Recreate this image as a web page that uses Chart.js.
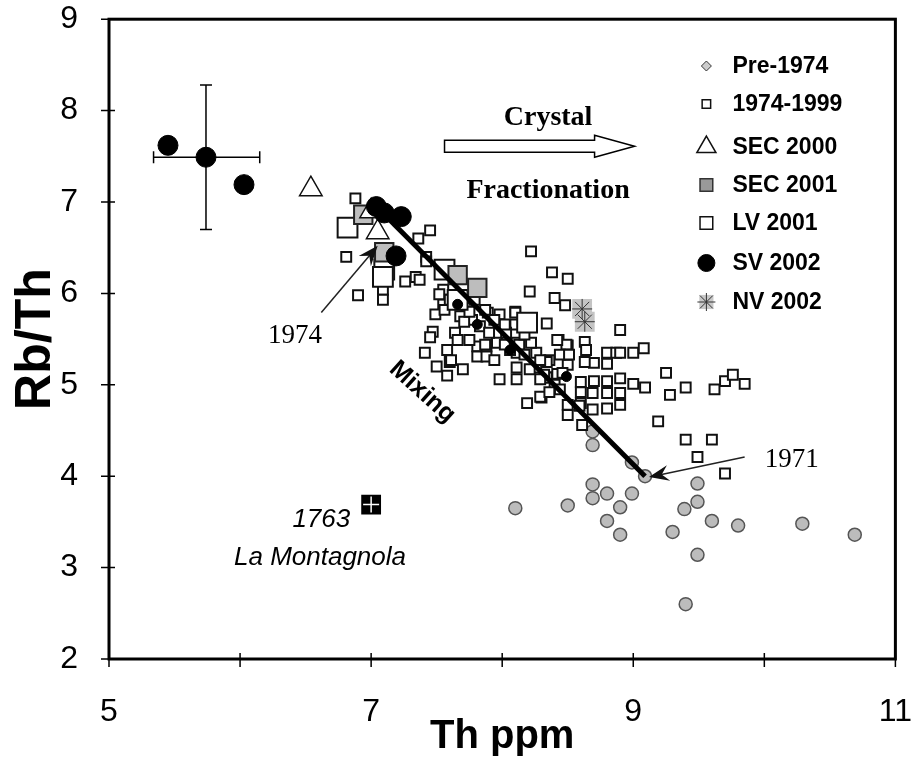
<!DOCTYPE html>
<html>
<head>
<meta charset="utf-8">
<script src="https://cdn.jsdelivr.net/npm/chart.js@4.4.1/dist/chart.umd.min.js"></script>
<style>
  html, body { margin: 0; padding: 0; background: #fff; }
  #wrap { width: 912px; height: 761px; }
</style>
</head>
<body>
<div id="wrap"><canvas id="rbth"></canvas></div>
<script>
// Rb/Th vs Th (ppm), Etna lavas

// Pre-1974
const preTh   = [8.10, 8.50, 8.69, 8.69, 8.80, 8.90, 8.80, 8.90, 8.99, 9.09, 8.99, 8.69, 8.69, 9.30, 9.39, 9.49, 9.49, 9.60, 9.49, 9.80, 9.40, 10.29, 10.69];
const preRbTh = [3.65, 3.68, 3.91, 3.76, 3.81, 3.66, 3.51, 3.36, 3.81, 4.00, 4.15, 4.34, 4.49, 3.39, 3.64, 3.72, 3.92, 3.51, 3.14, 3.46, 2.60, 3.48, 3.36];

// 1974-1999
const histTh = [
  6.88, 6.81, 6.90, 7.09, 7.09, 7.26, 7.34, 7.36, 7.45, 7.42, 7.42, 7.37, 7.55,
  8.22, 8.38, 8.50, 8.21, 8.40, 8.48, 8.10, 8.34, 8.90, 8.43, 8.50, 8.63, 8.80, 8.87, 8.90, 9.00, 9.08,
  9.25, 9.09, 9.28, 9.40, 9.62, 9.70, 9.76, 9.85, 9.19, 9.40, 9.60, 9.49, 9.70,
  9.00, 8.90, 8.80, 8.70, 8.60, 8.60, 8.60, 8.69, 8.69, 8.80, 8.80, 8.90, 8.90, 8.59, 8.50, 8.50,
  8.30, 8.35, 8.42, 8.80, 8.70, 8.63, 8.50, 8.49, 8.42, 8.36, 8.44, 8.51, 8.64, 8.46, 8.26, 8.61,
  7.55, 7.49, 7.47, 7.41, 7.50, 7.60, 7.58, 7.70, 7.64, 7.66, 7.58, 7.61, 7.81, 7.81, 7.88, 7.88,
  7.96, 7.94, 7.98, 8.10, 8.10, 8.11, 8.11, 8.11, 8.11, 8.19, 8.29, 8.34, 8.34, 8.26, 8.22, 7.98,
  7.89, 7.83, 7.77, 7.73, 7.68, 7.90, 8.03, 8.06, 7.45,
  7.52, 7.60, 7.68, 7.56, 7.71, 7.75, 7.87, 8.02, 8.13, 8.17, 8.29, 7.75, 7.79, 7.87, 7.94, 8.02,
  8.17, 8.21, 8.32, 8.40, 8.44, 8.29, 8.36
];
const histRbTh = [
  7.04, 6.40, 5.98, 6.04, 5.93, 6.13, 6.18, 6.60, 6.69, 6.40, 6.35, 6.15, 6.04,
  6.46, 6.23, 6.16, 6.02, 5.95, 5.87, 5.80, 5.67, 5.60, 5.49, 5.43, 5.47, 5.35, 5.35, 5.35, 5.35, 5.40,
  5.13, 4.97, 4.89, 4.97, 4.95, 5.04, 5.11, 5.01, 4.60, 4.40, 4.40, 4.21, 4.03,
  5.01, 5.07, 5.04, 5.04, 5.03, 4.92, 4.80, 4.91, 4.73, 4.91, 4.74, 4.91, 4.78, 4.77, 4.78, 4.67,
  4.86, 5.08, 5.12, 5.23, 5.24, 5.25, 5.22, 5.44, 5.49, 5.27, 5.33, 5.33, 5.38, 5.13, 5.19, 4.56,
  5.88, 5.77, 5.58, 5.35, 5.20, 5.25, 5.10, 5.17, 5.57, 5.49, 5.38, 5.27, 5.42, 5.31, 5.42, 5.31,
  5.46, 5.27, 5.06, 5.79, 5.66, 5.46, 5.35, 5.19, 5.06, 4.80, 4.87, 5.25, 5.08, 5.35, 5.46, 5.77,
  5.79, 5.64, 5.71, 5.84, 5.75, 5.57, 5.57, 5.38, 5.52,
  5.99, 5.93, 5.88, 5.82, 5.69, 5.80, 5.44, 5.44, 5.44, 5.33, 5.27, 5.49, 5.93, 5.82, 5.71, 5.66,
  5.55, 5.17, 5.11, 5.00, 4.95, 5.06, 4.92
];

// SEC 2000
const sec00Th   = [6.54, 7.00, 7.05];
const sec00RbTh = [7.14, 6.90, 6.67];

// SEC 2001
const sec01Th   = [6.94, 7.10, 7.66, 7.81];
const sec01RbTh = [6.86, 6.45, 6.20, 6.06];

// LV 2001
const lv01Th   = [6.82, 7.10, 7.09, 7.56, 7.66, 8.19];
const lv01RbTh = [6.72, 6.26, 6.18, 6.26, 5.93, 5.68];

// SV 2002
const sv02Th   = [5.45, 5.74, 6.03, 7.04, 7.23, 7.19, 7.10, 7.66, 7.81, 8.06, 8.49];
const sv02RbTh = [7.62, 7.49, 7.19, 6.95, 6.84, 6.41, 6.88, 5.88, 5.66, 5.38, 5.09];

// NV 2002
const nv02Th   = [8.61, 8.63];
const nv02RbTh = [5.83, 5.69];

// 1763 La Montagnola
const montTh   = [7.00];
const montRbTh = [3.69];

// mixing line end members
const mixTh   = [7.04, 9.09];
const mixRbTh = [6.95, 4.00];

// analytical error bar (on the SV 2002 point)
const errTh   = 5.74, errRbTh = 7.49;
const errThLo = 5.34, errThHi = 6.15;
const errRbLo = 6.70, errRbHi = 8.28;

const xTicks = [5, 7, 9, 11];
const yTicks = [2, 3, 4, 5, 6, 7, 8, 9];

const legendItems = ['Pre-1974', '1974-1999', 'SEC 2000', 'SEC 2001', 'LV 2001', 'SV 2002', 'NV 2002'];

function pts(xs, ys) {
  return xs.map((x, i) => ({ x: x, y: ys[i] }));
}

const SANS = '"Liberation Sans", Arial, sans-serif';
const SERIF = '"Liberation Serif", "Times New Roman", serif';

// extra drawing: frame, ticks, error bar, arrows, labels, legend
const decorations = {
  id: 'decorations',
  afterDatasetsDraw(chart) {
    const ctx = chart.ctx;
    const xs = chart.scales.x, ys = chart.scales.y;
    const a = chart.chartArea;
    const X = v => xs.getPixelForValue(v);
    const Y = v => ys.getPixelForValue(v);
    ctx.save();

    // frame
    ctx.strokeStyle = '#000';
    ctx.lineWidth = 3;
    ctx.strokeRect(a.left, a.top, a.right - a.left, a.bottom - a.top);

    // ticks crossing the axes
    ctx.lineWidth = 1.5;
    ctx.beginPath();
    for (let v = 5; v <= 11; v++) { ctx.moveTo(X(v), a.bottom + 8); ctx.lineTo(X(v), a.bottom - 6); }
    for (const v of yTicks) { ctx.moveTo(a.left - 8, Y(v)); ctx.lineTo(a.left + 6, Y(v)); }
    ctx.stroke();

    // error bar
    ctx.lineWidth = 1.5;
    ctx.beginPath();
    ctx.moveTo(X(errThLo), Y(errRbTh)); ctx.lineTo(X(errThHi), Y(errRbTh));
    ctx.moveTo(X(errThLo), Y(errRbTh) - 6); ctx.lineTo(X(errThLo), Y(errRbTh) + 6);
    ctx.moveTo(X(errThHi), Y(errRbTh) - 6); ctx.lineTo(X(errThHi), Y(errRbTh) + 6);
    ctx.moveTo(X(errTh), Y(errRbLo)); ctx.lineTo(X(errTh), Y(errRbHi));
    ctx.moveTo(X(errTh) - 6, Y(errRbLo)); ctx.lineTo(X(errTh) + 6, Y(errRbLo));
    ctx.moveTo(X(errTh) - 6, Y(errRbHi)); ctx.lineTo(X(errTh) + 6, Y(errRbHi));
    ctx.stroke();

    // thin arrows (1974, 1971)
    function arrow(x0, y0, x1, y1) {
      const p0 = [X(x0), Y(y0)], p1 = [X(x1), Y(y1)];
      const ang = Math.atan2(p1[1] - p0[1], p1[0] - p0[0]);
      ctx.strokeStyle = '#222';
      ctx.lineWidth = 1.5;
      ctx.beginPath();
      ctx.moveTo(p0[0], p0[1]);
      ctx.lineTo(p1[0] - 8 * Math.cos(ang), p1[1] - 8 * Math.sin(ang));
      ctx.stroke();
      ctx.save();
      ctx.translate(p1[0], p1[1]);
      ctx.rotate(ang);
      ctx.fillStyle = '#111';
      ctx.beginPath();
      ctx.moveTo(0, 0);
      ctx.lineTo(-20, -8);
      ctx.lineTo(-13, 0);
      ctx.lineTo(-20, 8);
      ctx.closePath();
      ctx.fill();
      ctx.restore();
    }
    arrow(6.62, 5.79, 7.05, 6.52);
    arrow(9.85, 4.21, 9.12, 3.99);

    // hollow "crystal fractionation" arrow
    const ax0 = X(7.56), ax1 = X(9.01), ay = Y(7.61);
    ctx.fillStyle = '#fff';
    ctx.strokeStyle = '#000';
    ctx.lineWidth = 1.5;
    ctx.beginPath();
    ctx.moveTo(ax0, ay - 6);
    ctx.lineTo(ax1 - 40, ay - 6);
    ctx.lineTo(ax1 - 40, ay - 11);
    ctx.lineTo(ax1, ay);
    ctx.lineTo(ax1 - 40, ay + 11);
    ctx.lineTo(ax1 - 40, ay + 6);
    ctx.lineTo(ax0, ay + 6);
    ctx.closePath();
    ctx.fill();
    ctx.stroke();

    // labels
    ctx.fillStyle = '#000';
    ctx.textAlign = 'center';
    ctx.textBaseline = 'middle';
    ctx.font = 'bold 28px ' + SERIF;
    ctx.fillText('Crystal', X(8.35), Y(7.92));
    ctx.fillText('Fractionation', X(8.35), Y(7.12));
    ctx.font = '27px ' + SERIF;
    ctx.fillText('1974', X(6.42), Y(5.53));
    ctx.fillText('1971', X(10.21), Y(4.18));
    ctx.font = 'italic 26px ' + SANS;
    ctx.fillText('1763', X(6.62), Y(3.52));
    ctx.fillText('La Montagnola', X(6.61), Y(3.11));
    ctx.save();
    ctx.translate(X(7.39), Y(4.92));
    ctx.rotate(42 * Math.PI / 180);
    ctx.font = 'bold 25px ' + SANS;
    ctx.fillText('Mixing', 0, 0);
    ctx.restore();

    // legend (inside plot, top right)
    const markers = [
      { pointStyle: 'rectRot', radius: 5, fill: '#ccc', stroke: '#333', bw: 1 },
      { pointStyle: 'rect', radius: 6, fill: '#fff', stroke: '#111', bw: 1.5 },
      { pointStyle: 'triangle', radius: 11, fill: '#fff', stroke: '#111', bw: 1.5 },
      { pointStyle: 'rect', radius: 9, fill: '#999', stroke: '#333', bw: 1.5 },
      { pointStyle: 'rect', radius: 9, fill: '#fff', stroke: '#111', bw: 1.5 },
      { pointStyle: 'circle', radius: 8.5, fill: '#000', stroke: '#000', bw: 1 },
      { pointStyle: 'rect', radius: 10, fill: '#c8c8c8', stroke: '#c8c8c8', bw: 0 }
    ];
    const legY = [66, 104, 147, 185, 223, 263, 302];
    const mx = a.right - 189, tx = a.right - 163;
    ctx.textAlign = 'left';
    ctx.font = 'bold 23px ' + SANS;
    legendItems.forEach((label, i) => {
      const m = markers[i];
      ctx.fillStyle = m.fill;
      ctx.strokeStyle = m.stroke;
      ctx.lineWidth = m.bw;
      Chart.helpers.drawPoint(ctx, { pointStyle: m.pointStyle, radius: m.radius, rotation: 0, borderWidth: m.bw }, mx, legY[i]);
      if (i === 6) {
        ctx.strokeStyle = '#333';
        ctx.lineWidth = 1;
        Chart.helpers.drawPoint(ctx, { pointStyle: 'star', radius: 9, rotation: 0, borderWidth: 1 }, mx, legY[i]);
      }
      ctx.fillStyle = '#000';
      ctx.fillText(label, tx, legY[i] + 1);
    });

    ctx.restore();
  }
};

const ctx = document.getElementById('rbth').getContext('2d');
new Chart(ctx, {
  type: 'scatter',
  data: {
    datasets: [
      {
        label: 'Mixing',
        data: pts(mixTh, mixRbTh),
        showLine: true,
        borderColor: '#000',
        borderWidth: 5,
        pointRadius: 0,
        order: 0
      },
      {
        label: 'SV 2002',
        data: pts(sv02Th, sv02RbTh),
        pointStyle: 'circle',
        pointRadius: sv02Th.map((v, i) => i < 7 ? 10 : 5),
        backgroundColor: '#000',
        borderColor: '#000',
        borderWidth: 1,
        order: 1
      },
      {
        label: 'SEC 2000',
        data: pts(sec00Th, sec00RbTh),
        pointStyle: 'triangle',
        pointRadius: 13,
        backgroundColor: '#fff',
        borderColor: '#111',
        borderWidth: 1.5,
        order: 2
      },
      {
        label: 'NV 2002 star',
        data: pts(nv02Th, nv02RbTh),
        pointStyle: 'star',
        pointRadius: 10,
        backgroundColor: 'rgba(0,0,0,0)',
        borderColor: '#333',
        borderWidth: 1,
        order: 3
      },
      {
        label: 'NV 2002',
        data: pts(nv02Th, nv02RbTh),
        pointStyle: 'rect',
        pointRadius: 14,
        backgroundColor: '#c4c4c4',
        borderColor: '#c4c4c4',
        borderWidth: 0,
        order: 4
      },
      {
        label: 'SEC 2001',
        data: pts(sec01Th, sec01RbTh),
        pointStyle: 'rect',
        pointRadius: 13,
        backgroundColor: '#bdbdbd',
        borderColor: '#222',
        borderWidth: 2,
        order: 5
      },
      {
        label: 'LV 2001',
        data: pts(lv01Th, lv01RbTh),
        pointStyle: 'rect',
        pointRadius: 14,
        backgroundColor: '#fff',
        borderColor: '#111',
        borderWidth: 2,
        order: 6
      },
      {
        label: '1974-1999',
        data: pts(histTh, histRbTh),
        pointStyle: 'rect',
        pointRadius: 7,
        backgroundColor: '#fff',
        borderColor: '#111',
        borderWidth: 2,
        order: 7
      },
      {
        label: 'Pre-1974',
        data: pts(preTh, preRbTh),
        pointStyle: 'circle',
        pointRadius: 6.5,
        backgroundColor: '#bcbcbc',
        borderColor: '#555',
        borderWidth: 1.5,
        order: 8
      },
      {
        label: '1763 cross',
        data: pts(montTh, montRbTh),
        pointStyle: 'cross',
        pointRadius: 8,
        borderColor: '#fff',
        borderWidth: 1.5,
        order: 9
      },
      {
        label: '1763 La Montagnola',
        data: pts(montTh, montRbTh),
        pointStyle: 'rect',
        pointRadius: 14,
        backgroundColor: '#000',
        borderColor: '#000',
        borderWidth: 0,
        order: 10
      }
    ]
  },
  options: {
    responsive: true,
    maintainAspectRatio: false,
    animation: false,
    events: [],
    layout: { padding: 0 },
    plugins: {
      legend: { display: false },
      tooltip: { enabled: false }
    },
    scales: {
      x: {
        type: 'linear',
        min: 5,
        max: 11,
        afterFit: s => { s.height = 102; },
        border: { display: false },
        // tick marks are drawn by the plugin; the invisible tick length sets the label gap
        grid: { drawOnChartArea: false, drawTicks: true, tickLength: 34, color: 'rgba(0,0,0,0)' },
        ticks: {
          stepSize: 1,
          autoSkip: false,
          maxRotation: 0,
          padding: 0,
          color: '#000',
          font: { family: SANS, size: 32 },
          callback: v => xTicks.includes(v) ? String(v) : ''
        },
        title: {
          display: true,
          text: 'Th ppm',
          color: '#000',
          font: { family: SANS, size: 40, weight: 'bold' },
          padding: { top: 0, bottom: 0 }
        }
      },
      y: {
        type: 'linear',
        min: 2,
        max: 9,
        afterFit: s => { s.width = 109; },
        border: { display: false },
        grid: { drawOnChartArea: false, drawTicks: true, tickLength: 31, color: 'rgba(0,0,0,0)' },
        ticks: {
          stepSize: 1,
          autoSkip: false,
          padding: 0,
          color: '#000',
          font: { family: SANS, size: 32 },
          callback: v => yTicks.includes(v) ? String(v) : ''
        },
        title: {
          display: true,
          text: 'Rb/Th',
          color: '#000',
          font: { family: SANS, size: 50, weight: 'bold' },
          padding: { top: 6, bottom: 0 }
        }
      }
    }
  },
  plugins: [decorations]
});
</script>
</body>
</html>
